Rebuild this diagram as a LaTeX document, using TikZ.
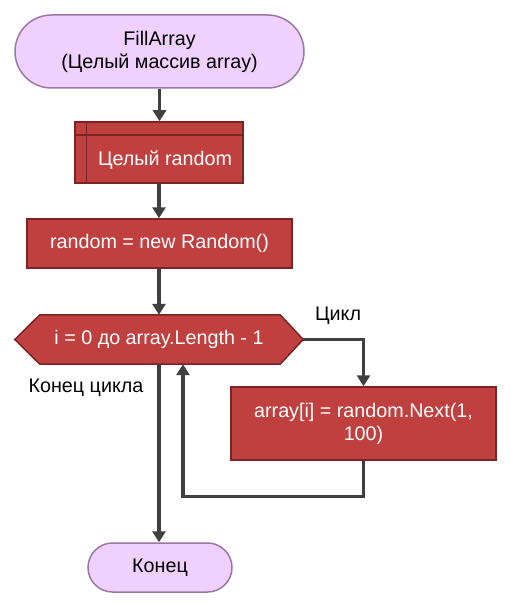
\documentclass[tikz,border=0pt]{standalone}
\usepackage{fontspec}
\setmainfont{Liberation Sans}
\usetikzlibrary{arrows.meta,backgrounds}
\definecolor{termfill}{HTML}{F0D0FE}
\definecolor{termdraw}{HTML}{9A78A4}
\definecolor{procfill}{HTML}{C04040}
\definecolor{procdraw}{HTML}{7A2424}
\definecolor{linecol}{HTML}{404040}
\begin{document}
\begin{tikzpicture}[x=1bp,y=-1bp,
  every node/.style={font=\fontsize{19.8}{23}\selectfont, inner sep=0pt, align=center},
  term/.style={draw=termdraw, fill=termfill, line width=1.5bp, text=black},
  proc/.style={draw=procdraw, fill=procfill, line width=1.5bp, text=white},
  flow/.style={draw=linecol, line width=3.2bp, -{Triangle[length=11bp,width=13bp]}},
  lbl/.style={text=black}]
\useasboundingbox (0,0) rectangle (511,607);
% start
\node[term, rounded corners=36.5bp, minimum width=289bp, minimum height=73bp] (start) at (159.5,51.5) {FillArray\\(Целый массив array)};
% subroutine
\node[proc, minimum width=168bp, minimum height=61bp] (sub) at (159,152.5) {};
\draw[procdraw, line width=1.5bp] ([yshift=-14bp]sub.north west) -- ([yshift=-14bp]sub.north east);
\draw[procdraw, line width=1.5bp] ([xshift=12bp]sub.north west) -- ([xshift=12bp]sub.south west);
\node[text=white] (subtxt) at (165,160.5) {Целый random};
% assignment
\node[proc, minimum width=265bp, minimum height=49bp] (init) at (159.5,243.5) {random = new Random()};
% loop hexagon
\node[text=white, minimum width=288bp, minimum height=49bp] (loop) at (159,339.5) {i = 0 до array.Length - 1};
\begin{scope}[on background layer]
\filldraw[draw=procdraw, fill=procfill, line width=1.5bp]
  (loop.west) -- ([xshift=25bp]loop.north west) -- ([xshift=-23bp]loop.north east) -- (loop.east)
  -- ([xshift=-23bp]loop.south east) -- ([xshift=25bp]loop.south west) -- cycle;
\end{scope}
% body
\node[proc, minimum width=265bp, minimum height=73bp] (body) at (363.5,423.5) {array[i] = random.Next(1,\\100)};
% end
\node[term, rounded corners=24.5bp, minimum width=144bp, minimum height=49bp] (end) at (160,567.5) {Конец};
% labels
\node[lbl] (lcycle) at (338,316) {Цикл};
\node[lbl] (lend) at (86,388) {Конец цикла};
% connectors
\draw[flow] (start.south) -- (start.south |- sub.north);
\draw[flow] (sub.south) -- (init.north -| sub.south);
\draw[flow] (init.south -| loop.north) -- (loop.north);
\draw[flow] (loop.east) -| (body.north);
\draw[flow] (body.south) -- ++(0,35.5) -| ([xshift=24bp]loop.south);
\draw[flow] (loop.south) -- (loop.south |- end.north);
\end{tikzpicture}
\end{document}
